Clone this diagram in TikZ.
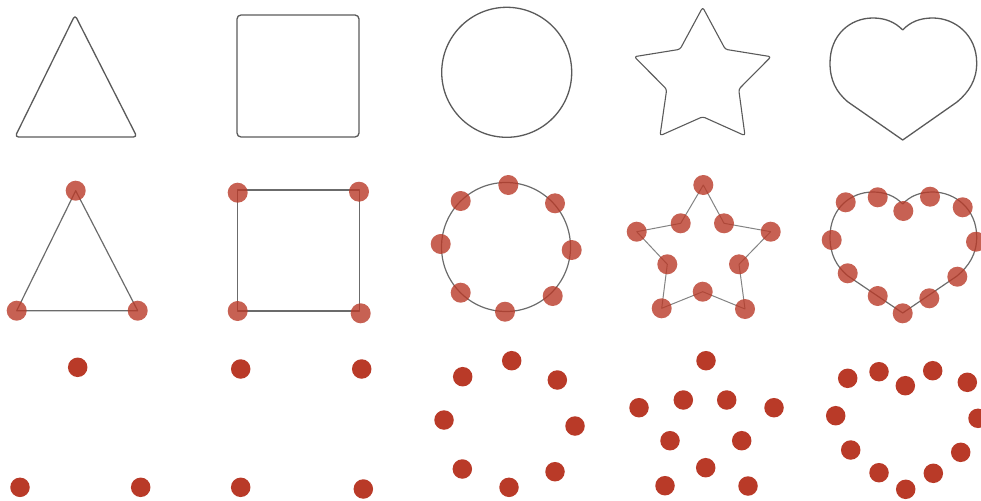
\documentclass[tikz,border=0pt]{standalone}
\usetikzlibrary{backgrounds}
\definecolor{dotred}{RGB}{185,58,40}
\definecolor{lineg}{RGB}{90,90,90}
\tikzset{
  dotb/.style={circle, fill=dotred, draw=none, inner sep=0pt, minimum size=19.5pt},
  dotm/.style={dotb, fill opacity=0.8, minimum size=20pt},
  shapeline/.style={draw=lineg, line width=1.3pt, line join=round},
  midline/.style={draw=lineg!90, line width=1.2pt, line join=round},
}
\begin{document}
\begin{tikzpicture}[x=1pt,y=-1pt]
\clip (0,0) rectangle (981,500);
% ---------- top row ----------
\draw[shapeline, rounded corners=3.5pt] (76,137) -- (15,137) -- (75,15) -- (137,137) -- cycle;
\draw[shapeline, rounded corners=4pt] (237,15) rectangle (359,137);
\draw[shapeline] (506.7,72.3) circle (65);
\draw[shapeline, line width=1.1pt, rounded corners=2.5pt] (702.7,7.3) -- (725.3,49.3) -- (771,56.7) -- (738.7,89.3) -- (745,135.7)
  -- (702.7,116.7) -- (660,135.7) -- (666.7,89.3) -- (634.3,56.7) -- (680,49.3) -- cycle;
\draw[shapeline] (902.7,30) .. controls (895,22) and (885,18) .. (873,18)
  .. controls (850,18) and (830,35) .. (830,63)
  .. controls (830,80) and (836,92) .. (848,102)
  -- (902.7,140) -- (957,102)
  .. controls (969,92) and (976.7,80) .. (976.7,63)
  .. controls (976.7,35) and (955,18) .. (932.7,18)
  .. controls (920,18) and (910,22) .. (902.7,30);
% ---------- middle row ----------
% triangle
\node[dotm] (mt1) at (75.7,190.7) {};
\node[dotm] (mt2) at (137.7,310.7) {};
\node[dotm] (mt3) at (16.7,310.7) {};
% square
\coordinate (sqa) at (237.5,190);
\coordinate (sqb) at (359.5,311);
\node[dotm] (ms1) at (237.7,192.7) {};
\node[dotm] (ms2) at (359,191.7) {};
\node[dotm] (ms3) at (360.7,313.3) {};
\node[dotm] (ms4) at (237.7,311) {};
% circle
\node[dotm] (mc1) at (508.3,185) {};
\node[dotm] (mc2) at (555,203.3) {};
\node[dotm] (mc3) at (571.7,250) {};
\node[dotm] (mc4) at (552.7,296) {};
\node[dotm] (mc5) at (505,311.7) {};
\node[dotm] (mc6) at (460.7,292.7) {};
\node[dotm] (mc7) at (440.7,244) {};
\node[dotm] (mc8) at (460.7,201) {};
% star
\node[dotm] (mr1) at (703.3,185) {};
\node[dotm] (mr2) at (724,223.3) {};
\node[dotm] (mr3) at (770.7,231.7) {};
\node[dotm] (mr4) at (739,264.3) {};
\node[dotm] (mr5) at (745,309) {};
\node[dotm] (mr6) at (702.7,291.7) {};
\node[dotm] (mr7) at (661.7,308.3) {};
\node[dotm] (mr8) at (667.3,264.3) {};
\node[dotm] (mr9) at (636.7,231.7) {};
\node[dotm] (mr10) at (680.7,223.3) {};
% heart
\node[dotm] (mh1) at (845.7,202.3) {};
\node[dotm] (mh2) at (877.7,197.3) {};
\node[dotm] (mh3) at (903.3,211) {};
\node[dotm] (mh4) at (930,196.7) {};
\node[dotm] (mh5) at (962.7,207.3) {};
\node[dotm] (mh6) at (976,241.7) {};
\node[dotm] (mh7) at (957.3,276.7) {};
\node[dotm] (mh8) at (929.3,298.3) {};
\node[dotm] (mh9) at (902.7,313.3) {};
\node[dotm] (mh10) at (877.7,296) {};
\node[dotm] (mh11) at (847.7,273.3) {};
\node[dotm] (mh12) at (831.7,240) {};
% outlines beneath the translucent dots
\begin{pgfonlayer}{background}
\draw[midline] (mt1.center) -- (mt2.center) -- (mt3.center) -- cycle;
\draw[midline] (sqa) rectangle (sqb);
\draw[midline] (506,247) circle (64.5);
\draw[midline, draw=lineg!75, line width=1pt] (mr1.center) -- (mr2.center) -- (mr3.center) -- (mr4.center) -- (mr5.center)
  -- (mr6.center) -- (mr7.center) -- (mr8.center) -- (mr9.center) -- (mr10.center) -- cycle;
\draw[midline] (902.7,204) .. controls (895,196) and (885,192) .. (873,192)
  .. controls (850,192) and (830,209) .. (830,237)
  .. controls (830,254) and (836,266) .. (848,276)
  -- (902.7,313) -- (957,276)
  .. controls (969,266) and (976.7,254) .. (976.7,237)
  .. controls (976.7,209) and (955,192) .. (932.7,192)
  .. controls (920,192) and (910,196) .. (902.7,204);
\end{pgfonlayer}
% ---------- bottom row ----------
\node[dotb] (bt1) at (77.7,367.3) {};
\node[dotb] (bt2) at (20,487.3) {};
\node[dotb] (bt3) at (140.7,487.3) {};
\node[dotb] (bs1) at (240.7,369) {};
\node[dotb] (bs2) at (361.7,369) {};
\node[dotb] (bs3) at (240.7,487.3) {};
\node[dotb] (bs4) at (363.3,489) {};
\node[dotb] (bc1) at (511.7,360.7) {};
\node[dotb] (bc2) at (462.7,376.7) {};
\node[dotb] (bc3) at (557.3,380) {};
\node[dotb] (bc4) at (444,420) {};
\node[dotb] (bc5) at (575,426) {};
\node[dotb] (bc6) at (462.3,469) {};
\node[dotb] (bc7) at (555,471.7) {};
\node[dotb] (bc8) at (509,487.3) {};
\node[dotb] (br1) at (706,360.7) {};
\node[dotb] (br2) at (639,407.7) {};
\node[dotb] (br3) at (683.3,400) {};
\node[dotb] (br4) at (726.7,400) {};
\node[dotb] (br5) at (774,407.7) {};
\node[dotb] (br6) at (670,440.7) {};
\node[dotb] (br7) at (741.7,440.7) {};
\node[dotb] (br8) at (705.7,467.7) {};
\node[dotb] (br9) at (665,485.7) {};
\node[dotb] (br10) at (748,486) {};
\node[dotb] (bh1) at (847.7,378.3) {};
\node[dotb] (bh2) at (879,371.7) {};
\node[dotb] (bh3) at (905.3,385.7) {};
\node[dotb] (bh4) at (932.7,370.7) {};
\node[dotb] (bh5) at (967.3,382.3) {};
\node[dotb] (bh6) at (835.7,415.7) {};
\node[dotb] (bh7) at (978,418.3) {};
\node[dotb] (bh8) at (850.7,450) {};
\node[dotb] (bh9) at (960.7,452.3) {};
\node[dotb] (bh10) at (879,472.7) {};
\node[dotb] (bh11) at (933.3,473.3) {};
\node[dotb] (bh12) at (905.7,489.3) {};
\end{tikzpicture}
\end{document}
